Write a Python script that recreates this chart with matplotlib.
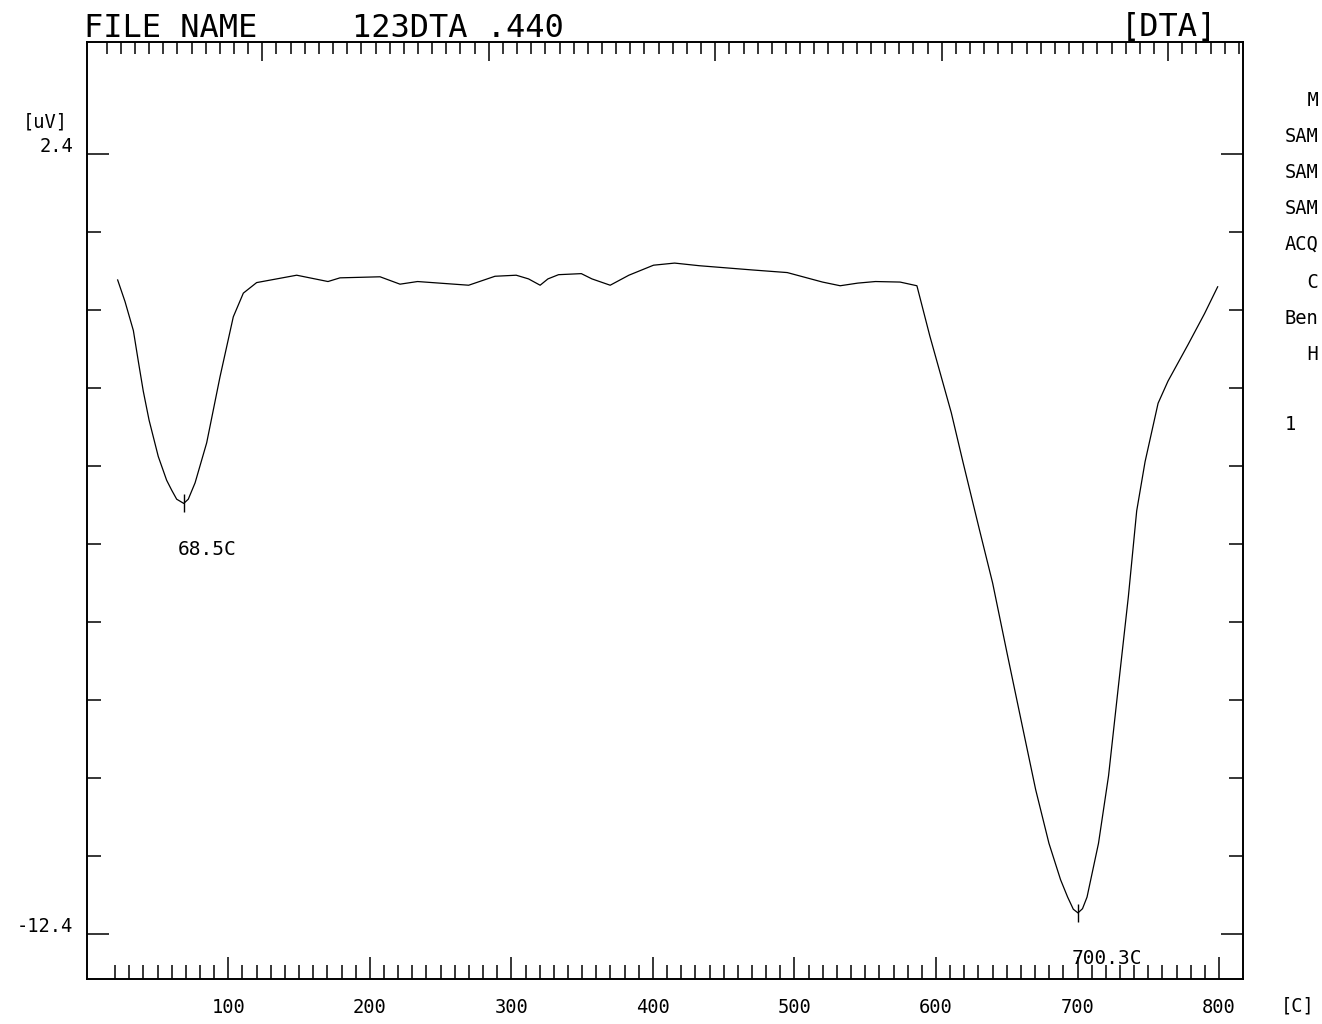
import matplotlib.pyplot as plt
import numpy as np

plt.rcParams["font.family"] = ["DejaVu Sans Mono"]

# DTA trace: furnace temperature [C] against differential signal [uV]
temp_c = [
    21.8, 27.0, 32.9, 36.5, 39.9, 44.0, 50.5, 56.4, 60.0, 63.5, 68.5, 71.7,
    76.5, 84.7, 94.1, 103.5, 110.6, 120.0, 148.3, 170.4, 178.9, 207.2, 221.3,
    233.7, 269.8, 288.4, 303.4, 312.1, 320.3, 325.8, 333.3, 349.4, 356.9,
    369.8, 383.0, 400.4, 415.3, 432.8, 470.1, 494.9, 519.8, 532.3, 544.7,
    557.2, 574.6, 586.5, 595.6, 610.8, 619.0, 630.6, 640.0, 650.5, 661.1,
    670.4, 679.8, 688.0, 693.0, 697.0, 700.3, 703.5, 706.7, 714.8, 721.9,
    728.9, 735.9, 741.8, 747.7, 756.9, 763.9, 778.0, 789.7, 799.0,
]
signal_uv = [
    0.01, -0.40, -0.95, -1.55, -2.10, -2.65, -3.34, -3.79, -3.98, -4.15,
    -4.23, -4.15, -3.84, -3.08, -1.83, -0.69, -0.24, -0.04, 0.10, -0.02,
    0.05, 0.07, -0.07, -0.02, -0.09, 0.08, 0.10, 0.03, -0.09, 0.03, 0.11,
    0.13, 0.03, -0.09, 0.10, 0.29, 0.33, 0.28, 0.20, 0.15, -0.03, -0.10,
    -0.05, -0.02, -0.03, -0.10, -1.05, -2.51, -3.44, -4.72, -5.74, -7.11,
    -8.47, -9.66, -10.68, -11.37, -11.70, -11.93, -12.00, -11.92, -11.70,
    -10.68, -9.40, -7.69, -6.00, -4.37, -3.44, -2.33, -1.91, -1.22, -0.63,
    -0.12,
]

peak_temps = [68.5, 700.3]
peak_signals = [-4.23, -12.00]
peak_labels = ["68.5C", "700.3C"]

y_ticks = [2.4 - 1.48 * k for k in range(11)]
y_major = [2.4, -12.4]
y_labels = ["2.4", "-12.4"]
x_major = list(range(100, 801, 100))
x_minor = [t for t in range(20, 800, 10) if t % 100]
top_ticks = [14 + 10 * k for k in range(81)]
top_major = top_ticks[11::16]

side_panel = ["  M", "SAM", "SAM", "SAM", "ACQ", "  C", "Ben", "  H", "1"]
side_rows_px = [100, 136, 172, 208, 244, 282, 318, 354, 424]

W, H = 1322, 1024
fig = plt.figure(figsize=(W / 100, H / 100), dpi=100)
ax = fig.add_axes([86.8 / W, 45 / H, (1243 - 86.8) / W, (979 - 42) / H])

ax.plot(temp_c, signal_uv, color="black", lw=0.9)
ax.plot(peak_temps, peak_signals, ls="none", marker="|", ms=13, mew=1.0,
        color="black")
for t, v, lab in zip(peak_temps, peak_signals, peak_labels):
    ax.annotate(lab, (t, v), xytext=(-4.5, -37), textcoords="offset points",
                ha="left", va="baseline", fontsize=14)

ax.set_xlim(0, 816.9)
ax.set_ylim(-13.254, 4.525)

for s in ax.spines.values():
    s.set_linewidth(1.4)

# bottom temperature scale, ticks pointing inward
ax.set_xticks(x_major)
ax.set_xticklabels([str(t) for t in x_major])
ax.set_xticks(x_minor, minor=True)
ax.tick_params(axis="x", which="major", direction="in", length=15.8,
               width=1.1, pad=14, labelsize=13.5, top=False)
ax.tick_params(axis="x", which="minor", direction="in", length=10,
               width=1.1, top=False)

# signal scale on both sides, only the end values labelled
ax.set_yticks(y_major)
ax.set_yticklabels([])
ax.set_yticks([v for v in y_ticks if v not in y_major], minor=True)
ax.tick_params(axis="y", which="major", direction="in", length=15.8,
               width=1.1, left=True, right=True)
ax.tick_params(axis="y", which="minor", direction="in", length=10,
               width=1.1, left=True, right=True)

# top scale
top = ax.twiny()
top.set_xlim(ax.get_xlim())
top.set_xticks(top_major)
top.set_xticks(top_ticks, minor=True)
top.set_xticklabels([])
top.tick_params(axis="x", which="major", direction="in", length=14,
                width=1.1)
top.tick_params(axis="x", which="minor", direction="in", length=8.6,
                width=1.1)
for s in top.spines.values():
    s.set_visible(False)

ytrans = ax.get_yaxis_transform()
for v, lab in zip(y_major, y_labels):
    ax.annotate(lab, (0, v), xycoords=ytrans, xytext=(-10, 1.5),
                textcoords="offset points", ha="right", va="baseline",
                fontsize=13.5)


def px(x, y):
    return x / W, 1 - y / H


fig.text(*px(68, 128), "[uV]", ha="right", va="baseline", fontsize=13.5)
fig.text(*px(1298, 1012), "[C]", ha="center", va="baseline", fontsize=13.5)

fig.text(*px(84, 37), "FILE NAME", ha="left", va="baseline", fontsize=23)
fig.text(*px(352, 37), "123DTA .440", ha="left", va="baseline", fontsize=23)
fig.text(*px(1217, 36), "[DTA]", ha="right", va="baseline", fontsize=23)

for lab, row in zip(side_panel, side_rows_px):
    fig.text(*px(1285, row), lab, ha="left", va="center", fontsize=13.5)

fig.savefig("out.png", dpi=100, facecolor="white")
